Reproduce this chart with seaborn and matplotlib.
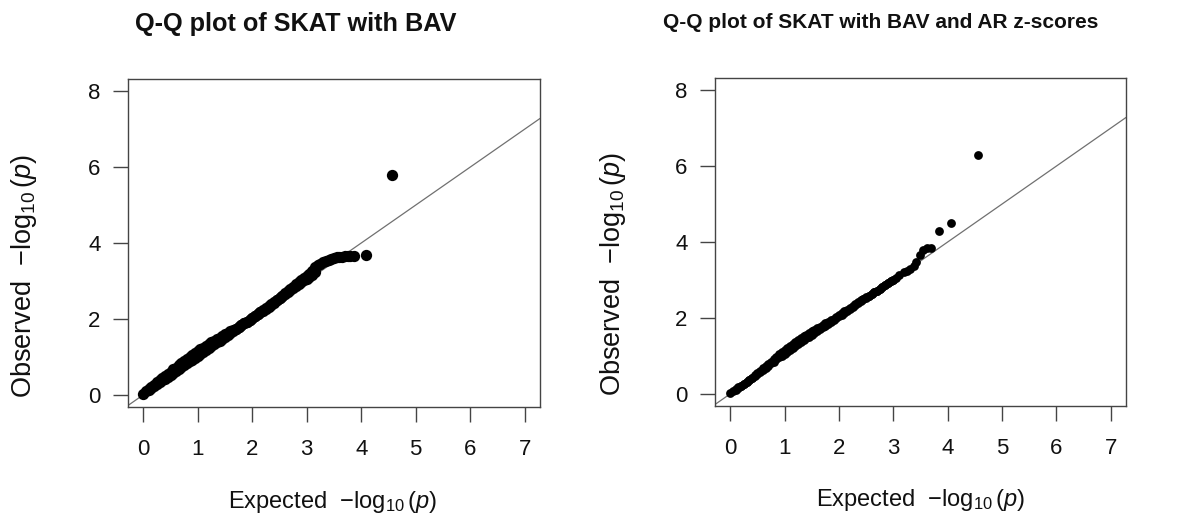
import numpy as np
import pandas as pd
import matplotlib
matplotlib.use("Agg")
import matplotlib.pyplot as plt
import seaborn as sns

# ---- data ----
# left panel: upper edge of the dense band plus the sparse tail
left_expected = [0.00, 0.05, 0.10, 0.15, 0.20, 0.25, 0.30, 0.35, 0.40, 0.45,
                 0.50, 0.55, 0.60, 0.65, 0.70, 0.75, 0.80, 0.85, 0.90, 0.95,
                 1.00, 1.05, 1.10, 1.15, 1.20, 1.25, 1.30, 1.35, 1.40, 1.45,
                 1.50, 1.55, 1.60, 1.65, 1.70, 1.75, 1.80, 1.85, 1.90, 1.95,
                 2.00, 2.05, 2.10, 2.15, 2.20, 2.25, 2.30, 2.35, 2.40, 2.45,
                 2.50, 2.55, 2.60, 2.65, 2.70, 2.75, 2.80, 2.85, 2.90, 2.95,
                 3.00, 3.05, 3.10, 3.15, 3.20, 3.25, 3.30, 3.35, 3.40, 3.45,
                 3.50, 3.55, 3.60, 3.65, 3.70, 3.75, 3.80, 3.87, 4.08, 4.57]
left_observed = [0.02, 0.09, 0.15, 0.21, 0.27, 0.33, 0.38, 0.44, 0.50, 0.56,
                 0.61, 0.67, 0.72, 0.78, 0.83, 0.89, 0.94, 1.00, 1.05, 1.10,
                 1.15, 1.20, 1.24, 1.29, 1.33, 1.38, 1.42, 1.47, 1.51, 1.55,
                 1.59, 1.63, 1.67, 1.70, 1.74, 1.79, 1.83, 1.88, 1.93, 1.98,
                 2.03, 2.08, 2.12, 2.17, 2.21, 2.27, 2.32, 2.38, 2.43, 2.49,
                 2.55, 2.61, 2.67, 2.73, 2.79, 2.85, 2.91, 2.97, 3.02, 3.07,
                 3.12, 3.18, 3.25, 3.36, 3.42, 3.46, 3.50, 3.53, 3.55, 3.58,
                 3.60, 3.62, 3.63, 3.64, 3.65, 3.66, 3.66, 3.67, 3.68, 5.79]
# left panel: lower edge of the dense band
left_expected_low = [0.10, 0.15, 0.20, 0.25, 0.30, 0.35, 0.40, 0.45, 0.50, 0.55,
                     0.60, 0.65, 0.70, 0.75, 0.80, 0.85, 0.90, 0.95, 1.00, 1.05,
                     1.10, 1.15, 1.20, 1.25, 1.30, 1.35, 1.40, 1.45, 1.50, 1.55,
                     1.60, 1.65, 1.70, 1.75, 1.80, 1.85, 1.90, 1.95, 2.00, 2.05,
                     2.10, 2.15, 2.20, 2.25, 2.30, 2.35, 2.40, 2.45, 2.50, 2.55,
                     2.60, 2.65, 2.70, 2.75, 2.80, 2.85, 2.90, 2.95, 3.00, 3.05,
                     3.10, 3.15]
left_observed_low = [0.13, 0.18, 0.23, 0.28, 0.33, 0.38, 0.43, 0.48, 0.53, 0.58,
                     0.63, 0.68, 0.73, 0.78, 0.83, 0.88, 0.93, 0.98, 1.03, 1.08,
                     1.13, 1.18, 1.23, 1.28, 1.33, 1.38, 1.43, 1.48, 1.53, 1.58,
                     1.63, 1.68, 1.73, 1.78, 1.83, 1.88, 1.93, 1.98, 2.03, 2.08,
                     2.13, 2.18, 2.23, 2.28, 2.33, 2.39, 2.44, 2.50, 2.55, 2.60,
                     2.65, 2.71, 2.76, 2.82, 2.87, 2.92, 2.97, 3.02, 3.06, 3.11,
                     3.17, 3.24]

# right panel: upper edge of the dense band plus the sparse tail
right_expected = [0.00, 0.05, 0.10, 0.15, 0.20, 0.25, 0.30, 0.35, 0.40, 0.45,
                  0.50, 0.55, 0.60, 0.65, 0.70, 0.75, 0.80, 0.85, 0.90, 0.95,
                  1.00, 1.05, 1.10, 1.15, 1.20, 1.25, 1.30, 1.35, 1.40, 1.45,
                  1.50, 1.55, 1.60, 1.65, 1.70, 1.75, 1.80, 1.85, 1.90, 1.95,
                  2.00, 2.05, 2.10, 2.15, 2.20, 2.25, 2.30, 2.35, 2.40, 2.45,
                  2.50, 2.55, 2.60, 2.65, 2.70, 2.75, 2.80, 2.85, 2.90, 2.95,
                  3.00, 3.05, 3.10, 3.19, 3.25, 3.31, 3.38, 3.42, 3.49, 3.55,
                  3.62, 3.69, 3.84, 4.07, 4.55]
right_observed = [0.02, 0.07, 0.12, 0.17, 0.22, 0.27, 0.32, 0.37, 0.43, 0.49,
                  0.55, 0.61, 0.67, 0.73, 0.79, 0.85, 0.92, 0.98, 1.04, 1.10,
                  1.15, 1.21, 1.26, 1.32, 1.37, 1.42, 1.47, 1.52, 1.56, 1.61,
                  1.65, 1.69, 1.73, 1.77, 1.81, 1.86, 1.90, 1.94, 1.98, 2.03,
                  2.07, 2.12, 2.17, 2.21, 2.25, 2.31, 2.36, 2.42, 2.47, 2.51,
                  2.55, 2.59, 2.62, 2.67, 2.71, 2.76, 2.81, 2.86, 2.91, 2.96,
                  3.00, 3.06, 3.12, 3.21, 3.24, 3.30, 3.38, 3.47, 3.65, 3.80,
                  3.84, 3.83, 4.28, 4.50, 6.29]
# right panel: lower edge of the dense band
right_expected_low = [0.10, 0.15, 0.20, 0.25, 0.30, 0.35, 0.40, 0.45, 0.50, 0.55,
                      0.60, 0.65, 0.70, 0.75, 0.80, 0.85, 0.90, 0.95, 1.00, 1.05,
                      1.10, 1.15, 1.20, 1.25, 1.30, 1.35, 1.40, 1.45, 1.50, 1.55,
                      1.60, 1.65, 1.70, 1.75, 1.80, 1.85, 1.90, 1.95, 2.00, 2.05,
                      2.10, 2.15, 2.20, 2.25, 2.30, 2.35, 2.40, 2.45, 2.50, 2.55,
                      2.60, 2.65, 2.70, 2.75, 2.80, 2.85, 2.90, 2.95, 3.00]
right_observed_low = [0.10, 0.15, 0.20, 0.25, 0.31, 0.36, 0.41, 0.47, 0.52, 0.58,
                      0.63, 0.69, 0.74, 0.80, 0.85, 0.91, 0.96, 1.01, 1.06, 1.11,
                      1.16, 1.21, 1.26, 1.31, 1.36, 1.41, 1.46, 1.51, 1.56, 1.61,
                      1.65, 1.70, 1.75, 1.80, 1.85, 1.90, 1.94, 1.99, 2.04, 2.09,
                      2.14, 2.19, 2.24, 2.29, 2.34, 2.39, 2.44, 2.49, 2.53, 2.58,
                      2.62, 2.67, 2.72, 2.77, 2.82, 2.87, 2.92, 2.97, 3.01]

x_ticks = [0, 1, 2, 3, 4, 5, 6, 7]
y_ticks = [0, 2, 4, 6, 8]
titles = ["Q-Q plot of SKAT with BAV", "Q-Q plot of SKAT with BAV and AR z-scores"]
xlabel = r"Expected  $-\log_{10}(p)$"
ylabel = r"Observed  $-\log_{10}(p)$"

sns.set_style("white")
plt.rcParams["font.family"] = ["Liberation Sans", "DejaVu Sans"]
plt.rcParams["mathtext.fontset"] = "custom"
plt.rcParams["mathtext.rm"] = "Liberation Sans"
plt.rcParams["mathtext.it"] = "Liberation Sans:italic"

W, H = 1180, 521
fig = plt.figure(figsize=(W / 100, H / 100), dpi=100)
fig.patch.set_facecolor("white")

panels = [
    dict(rect=[128 / W, 114 / H, 412 / W, 328 / H],
         ex=left_expected + left_expected_low, ob=left_observed + left_observed_low,
         s=66, title=titles[0], tsize=18.2, tpos=(296, 24), xl=(333, 502), yl=(24, 276)),
    dict(rect=[715 / W, 115 / H, 411 / W, 328 / H],
         ex=right_expected + right_expected_low, ob=right_observed + right_observed_low,
         s=40, title=titles[1], tsize=15.0, tpos=(881, 23), xl=(921, 500), yl=(613, 274)),
]

edge = "#444444"
for p in panels:
    ax = fig.add_axes(p["rect"])
    df = pd.DataFrame({"expected": p["ex"], "observed": p["ob"]})
    ax.axline((0, 0), slope=1, color="#707070", lw=0.9, zorder=1)
    sns.scatterplot(data=df, x="expected", y="observed", ax=ax, color="black",
                    s=p["s"], linewidth=0, alpha=1, zorder=2)
    ax.set_xlim(-0.28, 7.28)
    ax.set_ylim(-0.32, 8.32)
    ax.set_xticks(x_ticks)
    ax.set_yticks(y_ticks)
    ax.set_xlabel("")
    ax.set_ylabel("")
    for sp in ax.spines.values():
        sp.set_color(edge)
        sp.set_linewidth(1.0)
        sp.set_visible(True)
    ax.tick_params(axis="both", direction="out", length=10.8, width=1.0, color=edge,
                   labelsize=16, labelcolor="#111111")
    ax.tick_params(axis="x", pad=12, bottom=True)
    ax.tick_params(axis="y", pad=9, left=True)
    ax.grid(False)
    fig.text(p["tpos"][0] / W, 1 - p["tpos"][1] / H, p["title"], ha="center", va="center",
             fontsize=p["tsize"], fontweight="bold", color="#111111")
    fig.text(p["xl"][0] / W, 1 - p["xl"][1] / H, xlabel, ha="center", va="center",
             fontsize=17, color="#111111")
    fig.text(p["yl"][0] / W, 1 - p["yl"][1] / H, ylabel, ha="center", va="center",
             rotation=90, fontsize=19.5, color="#111111")

fig.savefig("out.png", dpi=100, facecolor="white")
